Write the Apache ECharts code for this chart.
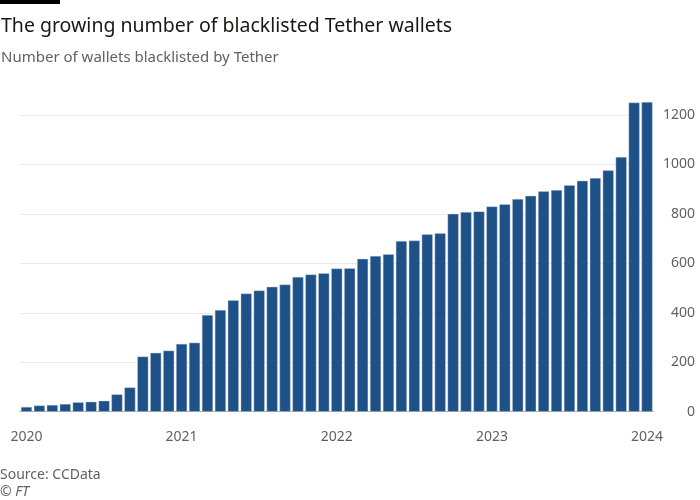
<!DOCTYPE html>
<html>
<head>
<meta charset="utf-8">
<script src="https://cdn.jsdelivr.net/npm/echarts@6/dist/echarts.min.js"></script>
<style>
  html, body { margin: 0; padding: 0; background: #fff; }
  #chart { width: 700px; height: 500px; }
</style>
</head>
<body>
<div id="chart"></div>
<script>
// 数据：每月被拉黑的钱包数量（2020-01 到 2024-01）
var years = ['2020', '2021', '2022', '2023', '2024'];
var values2020 = [19, 25, 27, 31, 38, 40, 44, 70, 98, 223, 238, 247];
var values2021 = [274, 279, 391, 411, 451, 478, 490, 505, 514, 545, 555, 560];
var values2022 = [579, 580, 618, 630, 637, 690, 692, 717, 722, 800, 807, 810];
var values2023 = [830, 839, 860, 873, 891, 896, 916, 934, 945, 976, 1030, 1250];
var values2024 = [1252];
var yTicks = [0, 200, 400, 600, 800, 1000, 1200];

// 拼接类别（月份）和数值
var categories = [];
var values = [].concat(values2020, values2021, values2022, values2023, values2024);
values.forEach(function (v, i) {
    var y = years[Math.floor(i / 12)];
    var m = (i % 12) + 1;
    categories.push(y + '-' + (m < 10 ? '0' + m : m));
});

var font = 'Noto Sans';

var option = {
    animation: false,
    backgroundColor: '#ffffff',
    textStyle: { fontFamily: font },
    graphic: [
        { type: 'rect', left: 0, top: 0, shape: { width: 60, height: 4 }, style: { fill: '#000000' } },
        { type: 'text', left: 0, top: 468, style: { text: 'Source: CCData', fontSize: 14, fill: '#66605c', fontFamily: font } },
        { type: 'text', left: 0, top: 485, style: { text: '\u00a9 FT', fontSize: 14, fontStyle: 'italic', fill: '#66605c', fontFamily: font } }
    ],
    title: {
        text: 'The growing number of blacklisted Tether wallets',
        subtext: 'Number of wallets blacklisted by Tether',
        left: -4,
        top: 11,
        itemGap: 14,
        textStyle: { fontSize: 19.5, fontWeight: 'normal', color: '#1a1817', fontFamily: font },
        subtextStyle: { fontSize: 15, color: '#66605c', fontFamily: font }
    },
    grid: { left: 20, right: 46.5, top: 115, bottom: 88.3 },
    xAxis: {
        type: 'category',
        data: categories,
        boundaryGap: true,
        axisLine: { lineStyle: { color: '#b3aca7', width: 1 } },
        axisTick: { alignWithLabel: true, interval: 0, length: 7, lineStyle: { color: '#ccc6c1' } },
        axisLabel: {
            interval: 0,
            margin: 18,
            fontSize: 14,
            color: '#66605c',
            formatter: function (val, idx) {
                return idx % 12 === 0 ? val.slice(0, 4) : '';
            }
        }
    },
    yAxis: {
        type: 'value',
        position: 'right',
        min: yTicks[0],
        max: yTicks[yTicks.length - 1],
        interval: 200,
        axisLine: { show: false },
        axisTick: { show: false },
        splitLine: { lineStyle: { color: '#ece9e6' } },
        axisLabel: {
            align: 'right', margin: 41.5, fontSize: 14, color: '#66605c',
            formatter: function (v) { return String(v); }
        }
    },
    series: [{
        type: 'bar',
        data: values,
        clip: false,
        barCategoryGap: '15%',
        itemStyle: { color: '#1f5189', borderColor: '#c9d1dc', borderWidth: 0.4 }
    }]
};

var chart = echarts.init(document.getElementById('chart'));
chart.setOption(option);
</script>
</body>
</html>
